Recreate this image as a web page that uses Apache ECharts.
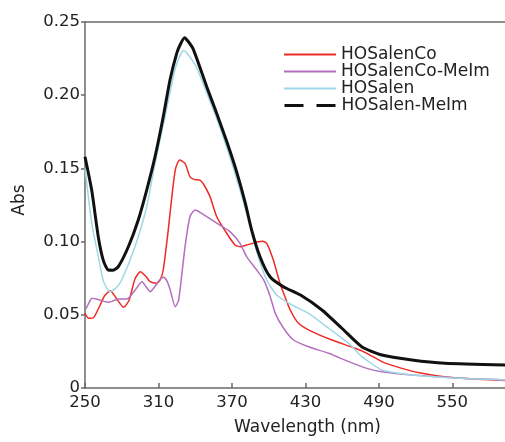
<!DOCTYPE html>
<html>
<head>
<meta charset="utf-8">
<script src="https://cdn.jsdelivr.net/npm/echarts@6/dist/echarts.min.js"></script>
<style>
html,body{margin:0;padding:0;background:#fff;}
#chart{width:505px;height:442px;}
</style>
</head>
<body>
<div id="chart"></div>
<script>
// ---- data ----
const seriesNames = ['HOSalenCo', 'HOSalenCo-MeIm', 'HOSalen', 'HOSalen-MeIm'];
const xTickLabels = [250, 310, 370, 430, 490, 550];
const yTickLabels = [0, 0.05, 0.10, 0.15, 0.20, 0.25];

const redWl  = [250,253,257,262,266,270.7,275,281.6,286,290.8,295.2,300,303.1,308.6,311.5,313.9,318,321.5,324,327.3,331.7,335.7,339,343.9,347,352.1,357.6,365.7,372.5,377,382,391.5,395,398.4,403.8,409.2,412.2,417.6,424.4,435.3,451.6,470.7,480.2,492.4,508.8,525,545,570,593];
const redAbs = [0.051,0.0476,0.048,0.056,0.063,0.0665,0.062,0.0551,0.060,0.0745,0.0794,0.076,0.0726,0.0715,0.074,0.0806,0.108,0.135,0.150,0.1557,0.1535,0.1443,0.1425,0.142,0.139,0.1307,0.117,0.1057,0.0977,0.0965,0.0977,0.0999,0.1003,0.0988,0.0874,0.0715,0.0647,0.0533,0.0442,0.0385,0.0328,0.0271,0.0237,0.018,0.0134,0.010,0.0075,0.006,0.0052];

const purpleWl  = [250,252.5,255.7,262.5,269.3,277.5,284.3,291,296.5,300,303.3,307.4,311,314.2,317,319.6,323.7,326.5,331.7,335.7,339.8,344,349.4,360.2,368.4,376.6,382,390.2,395.9,401.3,405.4,412.2,420.3,432.6,449,465.3,480.2,492.4,517,557.8,593];
const purpleAbs = [0.0533,0.057,0.0613,0.060,0.0585,0.0608,0.0608,0.067,0.0726,0.069,0.0658,0.0697,0.074,0.0756,0.073,0.067,0.0555,0.060,0.0965,0.117,0.1216,0.120,0.117,0.1113,0.1068,0.0988,0.0897,0.0806,0.0738,0.0624,0.051,0.0408,0.0328,0.0282,0.0237,0.018,0.0134,0.0111,0.0089,0.0066,0.0055];

const blueWl  = [250,252.7,256,260.9,265,270.4,275,280,290.8,300.4,307.2,315.3,322.1,326,330.5,334,339.8,343.9,354.8,362.9,371.1,379.3,384.7,391.5,398.4,406.5,419,432.6,449,465.3,476,480,492.4,517,557.8,593];
const blueAbs = [0.150,0.131,0.110,0.0897,0.073,0.0658,0.068,0.0738,0.0965,0.1238,0.1535,0.1853,0.2126,0.224,0.2305,0.228,0.221,0.2135,0.190,0.1715,0.1505,0.1275,0.1105,0.0897,0.0738,0.0635,0.0567,0.051,0.0408,0.0305,0.0214,0.0191,0.0123,0.0089,0.0066,0.0055];

const blackWl  = [250,255.5,260.9,265,269,273,277.2,285.4,293.5,300.4,307.2,313.9,319.4,324.9,328,331.4,334,338.4,349.4,357.6,365.7,373.9,380.7,386.1,392.9,401.1,412,426,443.5,459.8,476,492.4,517,543.9,593];
const blackAbs = [0.158,0.135,0.103,0.087,0.0806,0.0805,0.0829,0.0965,0.1148,0.1352,0.158,0.1853,0.2104,0.2286,0.235,0.2392,0.237,0.2315,0.2058,0.1875,0.1685,0.1475,0.127,0.1079,0.0897,0.076,0.0692,0.0635,0.0533,0.0408,0.0282,0.0225,0.0191,0.0169,0.0157];

const colors = ['#ee2b25', '#b36fbd', '#9fd7e6', '#111111'];
const widths = [1.5, 1.5, 1.5, 3];

function zip(a, b) { return a.map((v, i) => [v, b[i]]); }
const allData = [zip(redWl, redAbs), zip(purpleWl, purpleAbs), zip(blueWl, blueAbs), zip(blackWl, blackAbs)];

const FONT = 'DejaVu Sans';
const AXIS_COLOR = '#6a6a6a';
const chart = echarts.init(document.getElementById('chart'), null, {renderer: 'canvas'});

const legendTops = [46, 63, 80, 97];
const legends = seriesNames.map((n, i) => ({
  show: true,
  left: 283,
  top: legendTops[i],
  itemWidth: 52,
  itemHeight: 12,
  itemGap: 0,
  padding: 0,
  orient: 'vertical',
  selectedMode: false,
  itemStyle: {color: 'rgba(0,0,0,0)', borderColor: 'rgba(0,0,0,0)', borderWidth: 0},
  textStyle: {fontFamily: FONT, fontSize: 17, color: '#222'},
  data: [i === 3 ? {name: n, lineStyle: {type: [19, 13], width: 3, color: '#111'}} : {name: n}]
}));

const option = {
  backgroundColor: '#ffffff',
  animation: false,
  legend: legends,
  grid: {left: 85, top: 22, right: 0, bottom: 54, show: false},
  xAxis: [{
    type: 'value', min: 250, max: 593, interval: 60,
    name: 'Wavelength (nm)', nameLocation: 'middle', nameGap: 31,
    nameTextStyle: {fontFamily: FONT, fontSize: 17, color: '#222', padding: [0, 0, 0, 25]},
    axisLine: {show: true, lineStyle: {color: AXIS_COLOR, width: 1.5}},
    axisTick: {show: true, inside: true, length: 5, lineStyle: {color: AXIS_COLOR, width: 1.5}},
    axisLabel: {margin: 6, fontFamily: FONT, fontSize: 16.5, color: '#222', showMaxLabel: false,
      formatter: v => (xTickLabels.includes(v) ? String(v) : '')},
    splitLine: {show: false}
  }, {
    type: 'value', min: 250, max: 593, position: 'top',
    axisLine: {show: true, onZero: false, lineStyle: {color: AXIS_COLOR, width: 1.5}},
    axisTick: {show: false}, axisLabel: {show: false}, splitLine: {show: false}
  }],
  yAxis: {
    type: 'value', min: 0, max: 0.25, interval: 0.05,
    name: 'Abs', nameLocation: 'middle', nameGap: 57, nameRotate: 90,
    nameTextStyle: {fontFamily: FONT, fontSize: 17, color: '#222', padding: [0, 0, 0, 10]},
    axisLine: {show: true, lineStyle: {color: AXIS_COLOR, width: 1.5}},
    axisTick: {show: true, inside: false, length: 4, lineStyle: {color: AXIS_COLOR, width: 1.5}},
    axisLabel: {margin: 5, fontFamily: FONT, fontSize: 16.5, color: '#222',
      formatter: v => (Math.abs(v) < 1e-9 ? '0' : v.toFixed(2))},
    splitLine: {show: false}
  },
  series: seriesNames.map((n, i) => ({
    name: n, type: 'line', xAxisIndex: 0, data: allData[i], symbol: 'none', smooth: 0.2,
    lineStyle: {color: colors[i], width: widths[i]}, itemStyle: {color: colors[i]}, z: 2 + i
  }))
};
chart.setOption(option);
</script>
</body>
</html>
